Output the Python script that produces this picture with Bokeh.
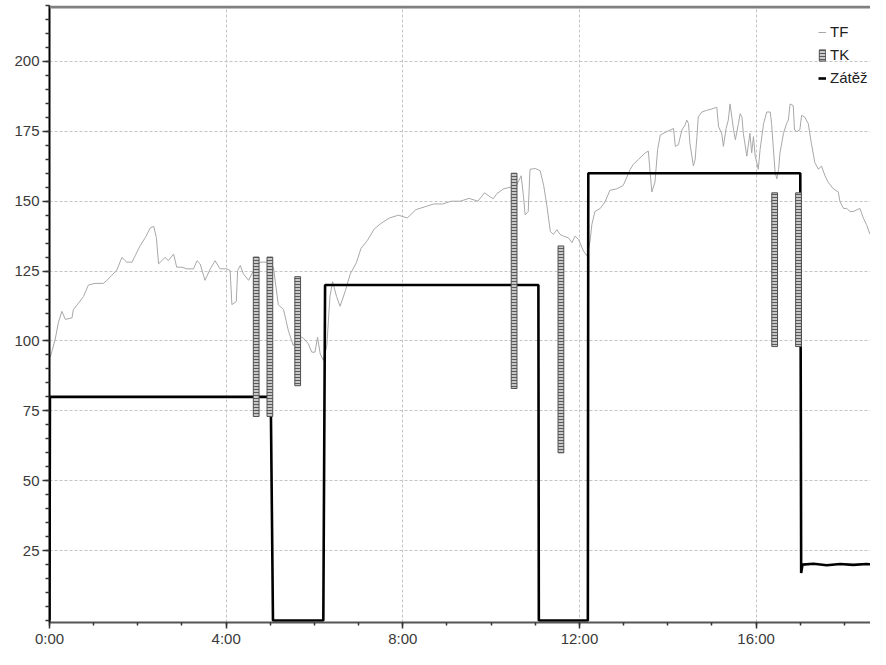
from bokeh.plotting import figure
from bokeh.models import FixedTicker, Span, Legend, LegendItem, Range1d
from bokeh.embed import file_html
from bokeh.resources import INLINE

# ---- data (time in hours) ----
tf_time = [0.02, 0.13, 0.20, 0.28, 0.36, 0.51, 0.54, 0.66, 0.77, 0.88, 1.03, 1.22, 1.30, 1.41, 1.52,
           1.64, 1.75, 1.87, 1.94, 2.05, 2.17, 2.28, 2.36, 2.42, 2.47, 2.54, 2.62, 2.69, 2.81, 2.88,
           3.00, 3.11, 3.26, 3.34, 3.41, 3.52, 3.64, 3.75, 3.86, 4.01, 4.09, 4.13, 4.23, 4.26, 4.32,
           4.39, 4.51, 4.62, 4.77, 4.92, 5.07, 5.18, 5.30, 5.41, 5.52, 5.64, 5.75, 5.86, 5.94, 6.01,
           6.07, 6.13, 6.20, 6.28, 6.35, 6.41, 6.50, 6.58,
           6.70, 6.81, 6.95, 7.05, 7.20, 7.35, 7.50, 7.70, 7.90, 8.10, 8.30, 8.50, 8.70, 8.90, 9.10,
           9.30, 9.50, 9.70, 9.85,
           9.98, 10.05, 10.13, 10.28, 10.43, 10.54, 10.61, 10.68, 10.73, 10.77, 10.84, 10.88, 11.00,
           11.11, 11.19, 11.26, 11.34, 11.41, 11.49, 11.56, 11.64, 11.75, 11.83, 11.90, 11.98, 12.09,
           12.17,
           12.24, 12.28, 12.35, 12.47, 12.58, 12.69, 12.84, 12.99, 13.15, 13.22, 13.34, 13.49, 13.56,
           13.60, 13.64, 13.71, 13.77, 13.83, 13.98, 14.13, 14.17, 14.24, 14.32, 14.39, 14.43, 14.47,
           14.50, 14.58, 14.62, 14.66, 14.69, 14.77, 14.88, 15.00, 15.11, 15.15, 15.22, 15.26, 15.32,
           15.37, 15.41, 15.45, 15.49, 15.53, 15.60, 15.64, 15.68, 15.71, 15.79, 15.83, 15.86, 15.90,
           15.94, 15.98, 16.05, 16.09, 16.17, 16.24, 16.32, 16.35, 16.43, 16.47, 16.51, 16.54, 16.62,
           16.69, 16.73, 16.77, 16.84, 16.87, 16.92, 16.99, 17.03, 17.10, 17.18, 17.25, 17.33, 17.41,
           17.48, 17.56, 17.63, 17.75, 17.86, 17.90, 17.98, 18.05, 18.13, 18.20, 18.28, 18.35, 18.43,
           18.50, 18.58, 18.73, 18.85, 18.92]
tf_value = [94.3, 100.7, 106.5, 110.6, 107.7, 108.3, 111.2, 113.6, 115.9, 120.0, 120.6, 120.6, 121.7, 123.5, 125.2,
            129.9, 128.2, 128.2, 130.5, 134.0, 137.0, 140.4, 141.0, 137.0, 127.6, 128.7, 129.9, 128.7, 131.1, 126.4,
            126.4, 125.8, 125.8, 128.7, 127.6, 121.7, 125.8, 128.7, 125.8, 125.8, 125.2, 113.0, 114.1, 125.2, 127.0,
            124.0, 121.7, 125.2, 128.2, 128.2, 126.4, 113.0, 111.2, 103.6, 98.4, 101.9, 101.0, 99.0, 96.0, 96.0,
            101.3, 95.4, 93.1, 98.4, 115.9, 121.2, 115.9, 112.4,
            118.0, 124.0, 128.0, 133.0, 136.0, 140.0, 142.0, 144.0, 145.0, 144.0, 147.0, 148.0, 149.0, 149.0, 150.0,
            150.0, 151.0, 150.0, 153.0,
            151.5, 150.9, 152.7, 154.4, 155.0, 154.4, 156.8, 159.1, 152.1, 145.1, 146.3, 161.4, 161.7,
            160.9, 155.6, 148.6, 139.2, 138.1, 139.8, 138.1, 137.5, 136.9, 135.2, 137.5, 136.3, 132.2,
            130.5,
            135.7, 141.6, 146.3, 147.4, 149.8, 153.9, 154.4, 155.6, 161.4, 163.2, 165.0, 167.3, 167.9,
            160.3, 153.3, 156.8, 168.5, 173.7, 174.9, 176.0, 169.6, 170.2, 175.5, 177.2, 179.0, 177.8,
            170.8, 162.6, 165.0, 173.1, 180.1, 181.9, 182.5, 183.0, 183.6, 176.6, 174.3, 169.6, 176.0,
            179.0, 184.8, 180.1, 175.5, 172.0, 177.8, 181.3, 180.1, 174.3, 166.1, 170.8, 174.3, 167.3,
            173.1, 166.1, 161.4, 168.5, 177.8, 181.9, 181.9, 177.8, 160.3, 158.0, 161.4, 167.3, 174.3,
            177.8, 179.0, 184.8, 184.2, 175.5, 174.9, 175.5, 180.7, 180.1, 177.8, 170.8, 163.8, 161.4,
            162.6, 159.1, 156.8, 154.4, 153.3, 149.8, 147.4, 147.4, 146.3, 146.3, 146.9, 147.4, 143.9,
            141.6, 138.1, 138.1, 137.5, 136.4]

tk_time = [4.68, 4.99, 5.62, 10.52, 11.58, 16.42, 16.96]
tk_low = [73, 73, 84, 83, 60, 98, 98]
tk_high = [130, 130, 123, 160, 134, 153, 153]

load_time = [0.0, 0.01, 5.01, 5.06, 6.20, 6.24, 11.07, 11.08, 12.19, 12.20, 17.00, 17.02, 17.05,
             17.30, 17.60, 17.90, 18.20, 18.50, 18.90]
load_value = [0, 80, 80, 0, 0, 120, 120, 0, 0, 160, 160, 17, 20,
              20.3, 19.8, 20.2, 19.9, 20.2, 20.0]

x_ticks = [0, 4, 8, 12, 16, 20]
x_labels = ["0:00", "4:00", "8:00", "12:00", "16:00", "20:00"]
x_minor = list(range(0, 21))
y_ticks = [25, 50, 75, 100, 125, 150, 175, 200]
y_minor = list(range(0, 225, 5))

FONT = "Liberation Sans"

p = figure(width=870, height=649, output_backend="svg", toolbar_location=None,
           x_range=Range1d(0, 18.59), y_range=Range1d(-0.7, 220),
           min_border_left=49, min_border_right=0, min_border_top=5, min_border_bottom=0)
p.outline_line_color = None
p.background_fill_color = "white"
p.border_fill_color = "white"

# axes
p.xaxis.ticker = FixedTicker(ticks=x_ticks, minor_ticks=x_minor)
p.xaxis.major_label_overrides = dict(zip(x_ticks, x_labels))
p.yaxis.ticker = FixedTicker(ticks=y_ticks, minor_ticks=y_minor)
for ax in (p.xaxis[0], p.yaxis[0]):
    ax.major_label_text_font = FONT
    ax.major_label_text_font_size = "15px"
    ax.major_label_text_color = "#3a3a3a"
    ax.major_tick_in = 0
    ax.minor_tick_in = 0
    ax.major_tick_line_color = "#333333"
    ax.minor_tick_line_color = "#333333"
    ax.major_tick_line_width = 1.5
    ax.minor_tick_line_width = 1.5
p.xaxis.major_tick_out = 6
p.xaxis.minor_tick_out = 3
p.xaxis.major_label_standoff = 1
p.xaxis.axis_line_color = "#555555"
p.xaxis.axis_line_width = 2
p.yaxis.major_tick_out = 7
p.yaxis.minor_tick_out = 4
p.yaxis.major_label_standoff = 3
p.yaxis.axis_line_color = "black"
p.yaxis.axis_line_width = 2

p.grid.grid_line_color = "#c4c4c4"
p.grid.grid_line_dash = "3 2"
p.grid.grid_line_width = 1

# top border
p.add_layout(Span(location=219.5, dimension="width", line_color="#808080", line_width=3))

# series
tf_r = p.line(tf_time, tf_value, line_color="#a8a8a8", line_width=1)
load_r = p.line(load_time, load_value, line_color="black", line_width=2.6)
tk_r = p.vbar(x=tk_time, bottom=tk_low, top=tk_high, width=0.13,
              fill_color="#c8c8c8", line_color="#505050", line_width=1,
              hatch_pattern="horizontal_line", hatch_color="#5a5a5a",
              hatch_scale=3, hatch_weight=1)

legend = Legend(items=[LegendItem(label="TF", renderers=[tf_r]),
                       LegendItem(label="TK", renderers=[tk_r]),
                       LegendItem(label="Zátěž", renderers=[load_r])],
                location=(769, 536))
legend.label_text_font = FONT
legend.label_text_font_size = "15px"
legend.label_text_color = "#222222"
legend.glyph_width = 8
legend.glyph_height = 14
legend.label_height = 16
legend.label_standoff = 4
legend.spacing = 6
legend.padding = 0
legend.margin = 0
legend.border_line_color = None
legend.background_fill_alpha = 0
p.add_layout(legend)

open("out.html", "w").write(file_html(p, INLINE))
